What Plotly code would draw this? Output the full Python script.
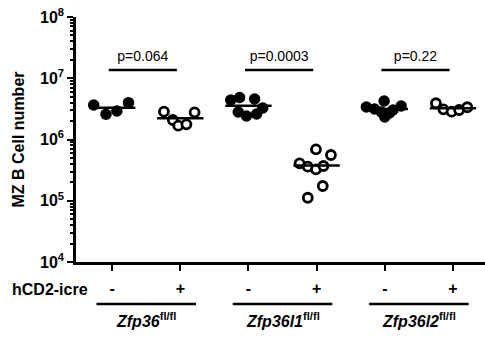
import plotly.graph_objects as go

# ---- data ----
group_names = ["Zfp36", "Zfp36l1", "Zfp36l2"]
cre_labels = ["-", "+", "-", "+", "-", "+"]
p_values = ["p=0.064", "p=0.0003", "p=0.22"]
y_tick_vals = [1e4, 1e5, 1e6, 1e7, 1e8]
y_tick_text = ["<b>10<sup>4</sup></b>", "<b>10<sup>5</sup></b>", "<b>10<sup>6</sup></b>",
               "<b>10<sup>7</sup></b>", "<b>10<sup>8</sup></b>"]

zfp36_wt = [3.66e6, 2.58e6, 2.92e6, 3.99e6]
zfp36_wt_jit = [-0.27, -0.09, 0.07, 0.24]
zfp36_cre = [2.85e6, 2.08e6, 1.68e6, 1.77e6, 2.78e6]
zfp36_cre_jit = [-0.24, -0.11, -0.03, 0.09, 0.21]
zfp36l1_wt = [4.41e6, 4.85e6, 4.59e6, 2.81e6, 2.42e6, 2.61e6, 3.27e6]
zfp36l1_wt_jit = [-0.26, -0.13, 0.09, -0.15, -0.03, 0.12, 0.21]
zfp36l1_cre = [6.9e5, 5.58e5, 4.08e5, 3.6e5, 3.26e5, 3.69e5, 1.74e5, 1.12e5]
zfp36l1_cre_jit = [-0.01, 0.21, -0.25, -0.13, -0.01, 0.10, 0.09, -0.13]
zfp36l2_wt = [4.26e6, 3.40e6, 3.15e6, 2.33e6, 3.03e6, 3.52e6, 2.81e6, 2.71e6]
zfp36l2_wt_jit = [-0.01, -0.27, -0.15, 0.0, 0.12, 0.24, -0.05, 0.07]
zfp36l2_cre = [3.91e6, 3.11e6, 2.85e6, 3.03e6, 3.36e6]
zfp36l2_cre_jit = [-0.25, -0.14, -0.02, 0.09, 0.21]

groups = [
    (zfp36_wt, zfp36_wt_jit, True),
    (zfp36_cre, zfp36_cre_jit, False),
    (zfp36l1_wt, zfp36l1_wt_jit, True),
    (zfp36l1_cre, zfp36l1_cre_jit, False),
    (zfp36l2_wt, zfp36l2_wt_jit, True),
    (zfp36l2_cre, zfp36l2_cre_jit, False),
]
bracket_y = 1.37e7
ptext_y = 2.15e7

FONT = "Liberation Sans, Arial, sans-serif"
fig = go.Figure()

for i, (vals, jit, filled) in enumerate(groups):
    xs = [i + j for j in jit]
    if filled:
        marker = dict(symbol="circle", size=11.5, color="black", line=dict(width=0))
    else:
        marker = dict(symbol="circle", size=9, color="white", line=dict(width=2.8, color="black"))
    fig.add_trace(go.Scatter(x=xs, y=vals, mode="markers", marker=marker,
                             showlegend=False, hoverinfo="skip"))
    m = sum(vals) / len(vals)
    fig.add_trace(go.Scatter(x=[i - 0.34, i + 0.34], y=[m, m], mode="lines",
                             line=dict(color="black", width=2.5),
                             showlegend=False, hoverinfo="skip"))

for k, p in enumerate(p_values):
    fig.add_trace(go.Scatter(x=[2 * k - 0.05, 2 * k + 0.95], y=[bracket_y, bracket_y],
                             mode="lines", line=dict(color="black", width=2.5),
                             showlegend=False, hoverinfo="skip"))
    fig.add_trace(go.Scatter(x=[2 * k + 0.45], y=[ptext_y], mode="text", text=[p],
                             textfont=dict(family=FONT, size=14, color="black"),
                             showlegend=False, hoverinfo="skip"))

shapes = []
annotations = []
for k, g in enumerate(group_names):
    c = 2 * k + 0.5
    shapes.append(dict(type="line", xref="x", yref="paper", x0=c - 0.73, x1=c + 0.73,
                       y0=-0.171, y1=-0.171, line=dict(color="black", width=2.5)))
    annotations.append(dict(xref="x", yref="paper", x=c, y=-0.236, showarrow=False,
                            text=f"<b><i>{g}</i><sup>fl/fl</sup></b>",
                            font=dict(family=FONT, size=16, color="black"),
                            xanchor="center", yanchor="middle"))
annotations.append(dict(xref="paper", yref="paper", x=-0.162, y=-0.112, showarrow=False,
                        text="<b>hCD2-icre</b>", font=dict(family=FONT, size=16, color="black"),
                        xanchor="left", yanchor="middle"))

minor_vals = [m * 10 ** e for e in range(4, 8) for m in range(2, 10)]

fig.update_layout(
    width=485, height=338,
    margin=dict(l=76, r=0, t=17, b=76),
    paper_bgcolor="white", plot_bgcolor="white",
    font=dict(family=FONT, size=16, color="black"),
    shapes=shapes, annotations=annotations,
    xaxis=dict(range=[-0.53, 5.47], tickvals=list(range(6)),
               ticktext=[f"<b>{t}</b>" for t in cre_labels],
               tickfont=dict(size=16, family=FONT, color="black"),
               showline=True, linecolor="black", linewidth=2.5,
               ticks="outside", ticklen=6, tickwidth=2, tickcolor="black",
               ticklabelstandoff=4,
               showgrid=False, zeroline=False, fixedrange=True),
    yaxis=dict(type="log", range=[4, 8], tickvals=y_tick_vals, ticktext=y_tick_text,
               tickfont=dict(size=16, family=FONT, color="black"),
               showline=True, linecolor="black", linewidth=2.5,
               ticks="outside", ticklen=6, tickwidth=2, tickcolor="black",
               minor=dict(tickvals=minor_vals, ticks="outside", ticklen=3, tickwidth=1.5,
                          tickcolor="black", showgrid=False),
               showgrid=False, zeroline=False,
               title=dict(text="<b>MZ B Cell number</b>", font=dict(size=16, family=FONT),
                          standoff=12)),
)

fig.write_html("out.html")
